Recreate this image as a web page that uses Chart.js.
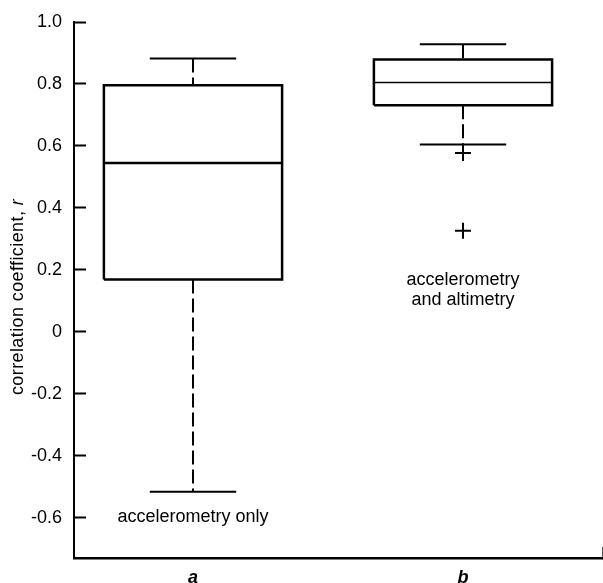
<!DOCTYPE html>
<html>
<head>
<meta charset="utf-8">
<script src="https://cdn.jsdelivr.net/npm/chart.js@4"></script>
<style>
  html, body { margin: 0; padding: 0; background: #fff; }
  #wrap { width: 603px; height: 583px; }
</style>
</head>
<body>
<div id="wrap"><canvas id="c" width="603" height="583"></canvas></div>
<script>
// ---- data ----
const groups = ['a', 'b'];
const whiskerLow = [-0.516, 0.605];
const q1 = [0.169, 0.731];
const median = [0.545, 0.805];
const q3 = [0.796, 0.879];
const whiskerHigh = [0.882, 0.928];
const outlierGroup = [1, 1];
const outlierValues = [0.577, 0.326];
const yTickValues = [-0.6, -0.4, -0.2, 0, 0.2, 0.4, 0.6, 0.8, 1.0];
const yTickLabels = ['-0.6', '-0.4', '-0.2', '0', '0.2', '0.4', '0.6', '0.8', '1.0'];
const groupNotes = [['accelerometry only'], ['accelerometry', 'and altimetry']];
const groupNoteY = [-0.598, 0.135];
const yTitle = 'correlation coefficient, ';
const yTitleItalic = 'r';

// ---- style ----
const FONT = '"Liberation Sans", Arial, Helvetica, sans-serif';
const BOX_HALF = 0.33, CAP_HALF = 0.16;
const medianWidth = [2.5, 1.5];
const DASH = [14, 5];

Chart.defaults.color = '#000';
Chart.defaults.font.family = FONT;

const datasets = [];
function seg(points, width, dash) {
  datasets.push({
    type: 'scatter', showLine: true, data: points,
    borderColor: '#000', backgroundColor: '#000', borderWidth: width,
    borderDash: dash || [], pointRadius: 0, pointHoverRadius: 0,
    tension: 0, fill: false, borderJoinStyle: 'miter', borderCapStyle: 'butt'
  });
}
groups.forEach((g, i) => {
  seg([{x: i - BOX_HALF, y: q1[i]}, {x: i + BOX_HALF, y: q1[i]}, {x: i + BOX_HALF, y: q3[i]},
       {x: i - BOX_HALF, y: q3[i]}, {x: i - BOX_HALF, y: q1[i]}], 2.5);
  seg([{x: i - BOX_HALF, y: median[i]}, {x: i + BOX_HALF, y: median[i]}], medianWidth[i]);
  seg([{x: i, y: whiskerHigh[i]}, {x: i, y: q3[i]}], 2, DASH);
  seg([{x: i, y: q1[i]}, {x: i, y: whiskerLow[i]}], 2, DASH);
  seg([{x: i - CAP_HALF, y: whiskerHigh[i]}, {x: i + CAP_HALF, y: whiskerHigh[i]}], 2);
  seg([{x: i - CAP_HALF, y: whiskerLow[i]}, {x: i + CAP_HALF, y: whiskerLow[i]}], 2);
});
datasets.push({
  type: 'scatter',
  data: outlierValues.map((v, k) => ({x: outlierGroup[k], y: v})),
  pointStyle: 'cross', pointRadius: 8, pointBorderWidth: 2,
  borderColor: '#000', backgroundColor: '#000', pointHoverRadius: 8
});

const notesPlugin = {
  id: 'notes',
  afterDatasetsDraw(chart) {
    const ctx = chart.ctx, xs = chart.scales.x, ys = chart.scales.y;
    ctx.save();
    ctx.fillStyle = '#000';
    ctx.font = '18px ' + FONT;
    ctx.textAlign = 'center';
    ctx.textBaseline = 'middle';
    const lh = 19.5;
    groupNotes.forEach((lines, i) => {
      const cx = xs.getPixelForValue(i);
      const cy = ys.getPixelForValue(groupNoteY[i]);
      const y0 = cy - (lines.length - 1) * lh / 2;
      lines.forEach((t, k) => ctx.fillText(t, cx, y0 + k * lh));
    });
    // y axis title with italic r
    ctx.translate(18, 297);
    ctx.rotate(-Math.PI / 2);
    ctx.letterSpacing = '0.4px';
    ctx.font = '18px ' + FONT;
    const w1 = ctx.measureText(yTitle).width;
    ctx.font = 'italic 18px ' + FONT;
    const w2 = ctx.measureText(yTitleItalic).width;
    const start = -(w1 + w2) / 2;
    ctx.textAlign = 'left';
    ctx.font = '18px ' + FONT;
    ctx.fillText(yTitle, start, 0);
    ctx.font = 'italic 18px ' + FONT;
    ctx.fillText(yTitleItalic, start + w1, 0);
    ctx.restore();
  }
};

function noPad(s) { s.paddingTop = 0; s.paddingBottom = 0; s.paddingLeft = 0; s.paddingRight = 0; }

new Chart(document.getElementById('c'), {
  type: 'scatter',
  data: { datasets },
  plugins: [notesPlugin],
  options: {
    responsive: false,
    animation: false,
    events: [],
    layout: { autoPadding: false, padding: { left: 0, right: 1, top: 22, bottom: 0 } },
    plugins: { legend: { display: false }, tooltip: { enabled: false } },
    scales: {
      x: {
        type: 'linear', position: 'bottom',
        min: -0.4407, max: 1.5148,
        afterBuildTicks(s) { s.ticks = groups.map((g, i) => ({value: i})).concat([{value: s.max}]); },
        afterFit(s) { s.height = 25; noPad(s); },
        ticks: {
          autoSkip: false, maxRotation: 0, padding: 20,
          font: { size: 18, style: 'italic', weight: 'bold', family: FONT },
          callback: (v, idx) => groups[idx] !== undefined ? groups[idx] : ''
        },
        grid: {
          drawOnChartArea: false, drawTicks: true, tickLength: -11, tickWidth: 1,
          tickColor: (c) => (c.tick && c.tick.value > 1.2) ? '#555' : 'rgba(0,0,0,0)'
        },
        border: { display: true, color: '#000', width: 2.5 }
      },
      y: {
        type: 'linear', position: 'left',
        min: -0.73, max: 1.0,
        afterBuildTicks(s) { s.ticks = yTickValues.map(v => ({value: v})); },
        afterFit(s) { s.width = 74; noPad(s); },
        ticks: {
          autoSkip: false, padding: 24,
          font: { size: 18, family: FONT },
          callback: (v, idx) => yTickLabels[idx]
        },
        grid: { drawOnChartArea: false, drawTicks: true, tickLength: -12, tickWidth: 2, tickColor: '#000' },
        border: { display: true, color: '#000', width: 2 }
      }
    }
  }
});
</script>
</body>
</html>
